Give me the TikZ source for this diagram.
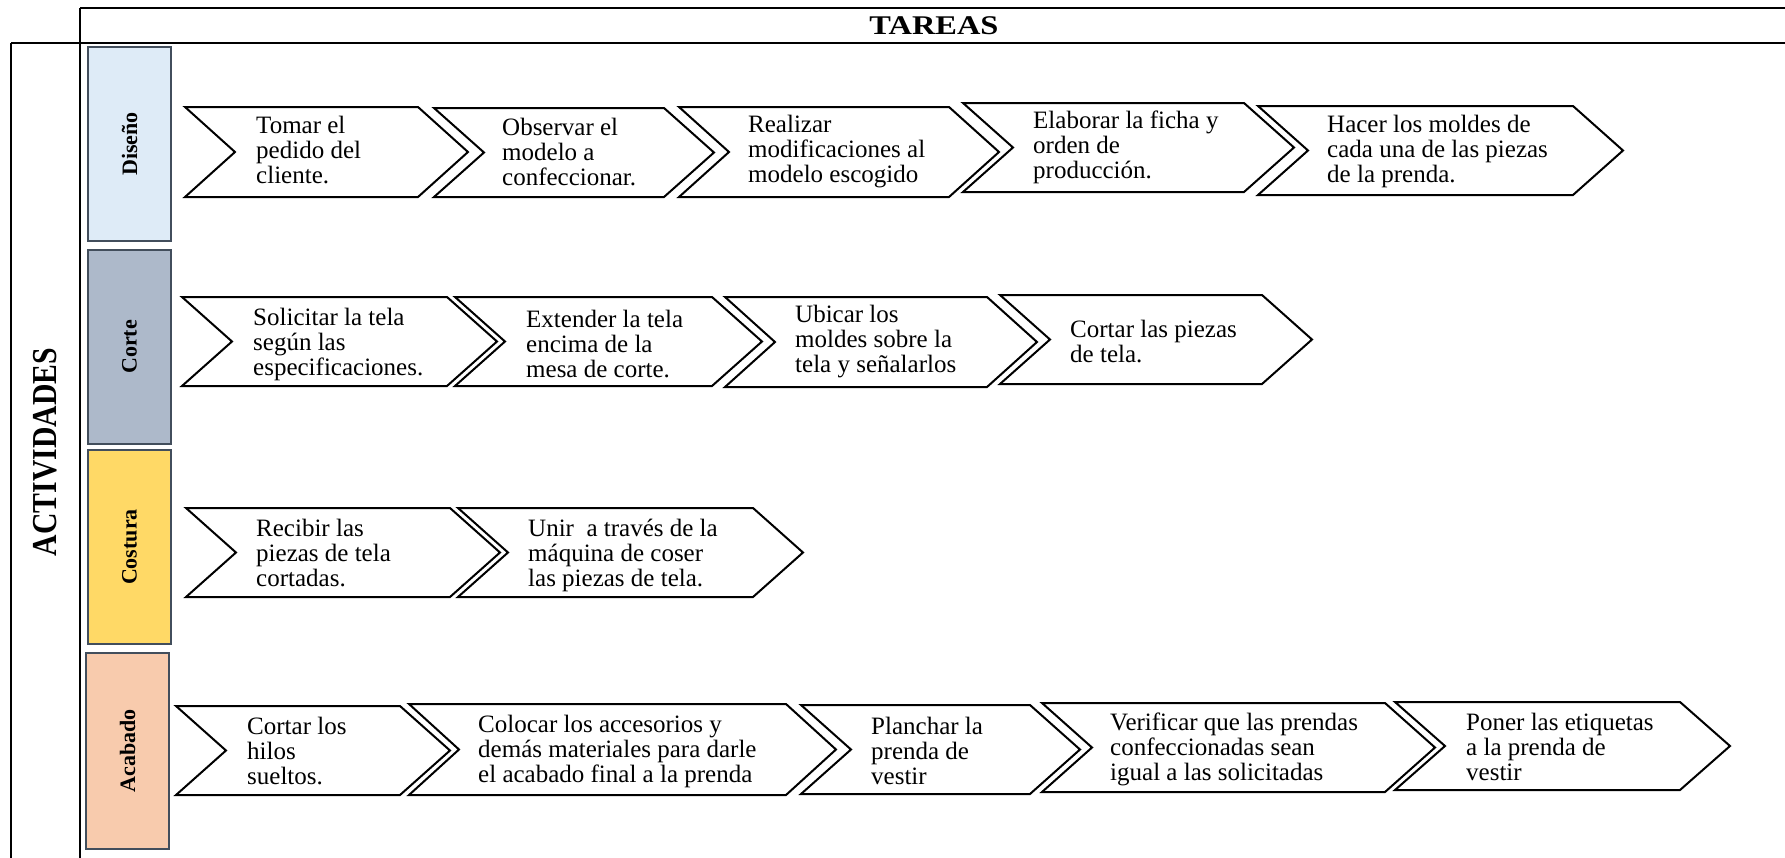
\documentclass[tikz,border=0pt]{standalone}
\usepackage{fontspec}
\setmainfont{Liberation Serif}
\definecolor{cDis}{RGB}{222,235,247}
\definecolor{cCor}{RGB}{173,185,202}
\definecolor{cCos}{RGB}{255,217,102}
\definecolor{cAca}{RGB}{248,203,173}
\definecolor{laneedge}{RGB}{66,78,92}

% chevron outline: #1 left edge, #2 tip, #3 top, #4 bottom
\newcommand\chevron[4]{%
  \draw[chev] (#1,#3) -- ({#2-50},#3) -- (#2,{(#3+#4)/2}) -- ({#2-50},#4)
    -- (#1,#4) -- ({#1+50},{(#3+#4)/2}) -- cycle;}

\begin{document}
\begin{tikzpicture}[x=1pt,y=-1pt,
  frame/.style={line width=1.5pt, draw=black},
  lane/.style={draw=laneedge, line width=2pt, inner sep=0pt},
  lanetext/.style={font=\fontsize{22}{22}\selectfont\bfseries, inner sep=0pt},
  chev/.style={draw=black, fill=white, line width=2pt, line join=miter},
  task/.style={anchor=west, align=left, inner sep=0pt,
    font=\fontsize{25}{25}\selectfont},
]
\useasboundingbox (0,0) rectangle (1785,857);

% table frame
\draw[frame] (80,8) -- (1800,8);
\draw[frame] (11,43) -- (1800,43);
\draw[frame] (11,43) -- (11,870);
\draw[frame] (80,8) -- (80,870);

\node (tareas) at (934,26) {\scalebox{1.2}[1]{\fontsize{27}{27}\selectfont\bfseries TAREAS}};
\node[rotate=90] (activ) at (45,452) {\scalebox{0.85}[1]{\fontsize{35}{35}\selectfont\bfseries ACTIVIDADES}};

% activity lanes
\node[lane, fill=cDis, minimum width=83, minimum height=194] (dis) at (129.5,144) {};
\node[lanetext, rotate=90] (disL) at (dis.center) {Diseño};
\node[lane, fill=cCor, minimum width=83, minimum height=194] (cor) at (129.5,347) {};
\node[lanetext, rotate=90] (corL) at (cor.center) {Corte};
\node[lane, fill=cCos, minimum width=83, minimum height=194] (cos) at (129.5,547) {};
\node[lanetext, rotate=90] (cosL) at (cos.center) {Costura};
\node[lane, fill=cAca, minimum width=83, minimum height=196] (aca) at (127.5,751) {};
\node[lanetext, rotate=90] (acaL) at (aca.center) {Acabado};

% Diseño
\chevron{185}{468}{107}{197}
\chevron{434}{714}{108}{197}
\chevron{679}{999}{107}{197}
\chevron{963}{1294}{103}{192}
\chevron{1258}{1623}{106}{195}
\node[task] (d1) at (256,150) {Tomar el\\pedido del\\cliente.};
\node[task] (d2) at (502,152) {Observar el\\modelo a\\confeccionar.};
\node[task] (d3) at (748,152) {Realizar\\modificaciones al\\modelo escogido};
\node[task] (d4) at (1033,147) {Elaborar la ficha y\\orden de\\producción.};
\node[task] (d5) at (1327,151) {Hacer los moldes de\\cada una de las piezas\\de la prenda.};

% Corte
\chevron{182}{497}{297}{386}
\chevron{455}{762}{297}{386}
\chevron{725}{1037}{297}{387}
\chevron{1000}{1312}{295}{384}
\node[task] (c1) at (253,344) {Solicitar la tela\\según las\\especificaciones.};
\node[task] (c2) at (526,344) {Extender la tela\\encima de la\\mesa de corte.};
\node[task] (c3) at (795,342) {Ubicar los\\moldes sobre la\\tela y señalarlos};
\node[task] (c4) at (1070,341) {Cortar las piezas\\de tela.};

% Costura
\chevron{186}{500}{508}{597}
\chevron{458}{803}{508}{597}
\node[task] (s1) at (256,553) {Recibir las\\piezas de tela\\cortadas.};
\node[task] (s2) at (528,555) {Unir~ a través de la\\máquina de coser\\las piezas de tela.};

% Acabado
\chevron{176}{450}{706}{795}
\chevron{409}{836}{704}{795}
\chevron{801}{1080}{705}{794}
\chevron{1042}{1435}{703}{792}
\chevron{1395}{1730}{702}{790}
\node[task] (a1) at (247,751) {Cortar los\\hilos\\sueltos.};
\node[task] (a2) at (478,751) {Colocar los accesorios y\\demás materiales para darle\\el acabado final a la prenda};
\node[task] (a3) at (871,751) {Planchar la\\prenda de\\vestir};
\node[task] (a4) at (1110,749) {Verificar que las prendas\\confeccionadas sean\\igual a las solicitadas};
\node[task] (a5) at (1466,747) {Poner las etiquetas\\a la prenda de\\vestir};
\end{tikzpicture}
\end{document}
